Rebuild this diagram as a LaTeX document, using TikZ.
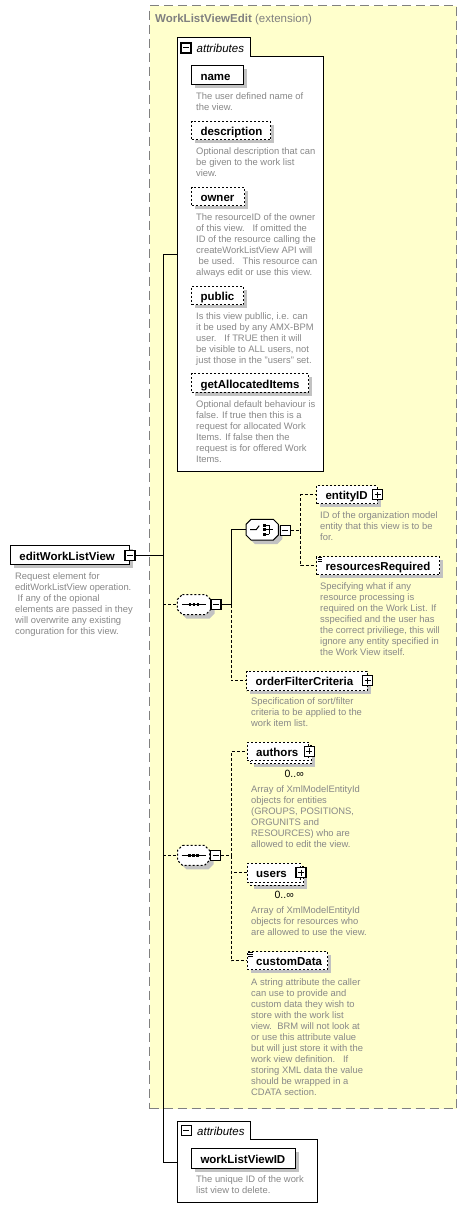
\documentclass[tikz,border=0pt]{standalone}
\usepackage{fontspec}
\setmainfont{Liberation Sans}
\definecolor{ybg}{RGB}{255,255,204}
\definecolor{descgray}{RGB}{136,136,136}
\definecolor{titlegray}{RGB}{128,128,128}
\colorlet{boxshade}{black!24}
\newcommand\dstrut{\rule{0pt}{7pt}}
\newcommand\lbl[2]{\makebox[#1pt][l]{#2}}
% shadow rectangle: x, y, w, h
\newcommand\shrect[4]{\path[fill=boxshade] (#1+4,#2+4) rectangle (#1+#3+4,#2+#4+4);}
% octagon path: centre x, y, half width, half height, cut
\newcommand\octpath[5]{(#1-#3+#5,#2-#4) -- (#1+#3-#5,#2-#4) -- (#1+#3,#2-#4+#5) -- (#1+#3,#2+#4-#5) -- (#1+#3-#5,#2+#4) -- (#1-#3+#5,#2+#4) -- (#1-#3,#2+#4-#5) -- (#1-#3,#2-#4+#5) -- cycle}
\tikzset{
  conn/.style={line width=1pt, black},
  dconn/.style={conn, dash pattern=on 3pt off 2pt},
  elem/.style={draw, line width=1pt, fill=white, anchor=north west, inner xsep=9pt, inner ysep=0pt,
    text height=10pt, text depth=0pt, font=\fontsize{11.5}{13}\selectfont\bfseries},
  opt/.style={dash pattern=on 2pt off 2pt},
  backbox/.style={draw, line width=1pt, fill=white, anchor=north west, inner sep=0pt, opt},
  desc/.style={anchor=north west, inner sep=0pt, align=left, text=descgray, font=\fontsize{9.4}{11}\selectfont},
  minusb/.style={draw, line width=1.2pt, fill=white, minimum size=10pt, inner sep=0pt,
    path picture={\draw[line width=1pt] ([xshift=2pt]path picture bounding box.west) -- ([xshift=-2pt]path picture bounding box.east);}},
  plusb/.style={draw, line width=1.2pt, fill=white, minimum size=10pt, inner sep=0pt,
    path picture={\draw[line width=1pt] ([xshift=2pt]path picture bounding box.west) -- ([xshift=-2pt]path picture bounding box.east)
      ([yshift=-2pt]path picture bounding box.north) -- ([yshift=2pt]path picture bounding box.south);}},
  compnode/.style={inner sep=0pt, draw=none},
  compline/.style={draw, line width=1pt, fill=white},
  attrlbl/.style={anchor=base west, inner sep=0pt, font=\fontsize{11.5}{13}\selectfont\itshape},
  mult/.style={anchor=east, inner sep=0pt, font=\fontsize{10.5}{12}\selectfont},
  attrbox/.style={draw, line width=1pt, fill=white},
  ybox/.style={draw=titlegray, fill=ybg, line width=1.3pt, dash pattern=on 9pt off 5pt, anchor=north west, inner sep=0pt},
}
\begin{document}
\begin{tikzpicture}[x=1pt,y=-1pt]
\fill[white] (0,0) rectangle (467,1220);
\useasboundingbox (0,0) rectangle (467,1220);

% extension box
\node[ybox, minimum width=307pt, minimum height=1103pt] (ext) at (149,5) {};
\node[anchor=base west, inner sep=0pt, text=titlegray, font=\fontsize{11.5}{13}\selectfont] (title) at (155,23) {\textbf{WorkListViewEdit} (extension)};

% attributes group 1
\draw[attrbox] (177,38) -- (250,38) -- (250,57) -- (323,57) -- (323,471) -- (177,471) -- cycle;
\node[minusb] (a1m) at (186,48) {};
\node[attrlbl] (a1l) at (196.5,52.3) {attributes};

\shrect{191}{65.3}{52}{19}
\node[elem, minimum height=19pt] (name) at (191,65.3) {\lbl{34}{name}};
\node[desc] (dname) at (196,92.2) {\dstrut The user defined name of\\the view.};
\shrect{191}{120.7}{79}{18.6}
\node[elem, opt, minimum height=18.6pt] (description) at (191,120.7) {\lbl{61}{description}};
\node[desc] (ddescription) at (196,147.2) {\dstrut Optional description that can\\be given to the work list\\view.};
\shrect{191}{186.7}{53}{18.3}
\node[elem, opt, minimum height=18.3pt] (owner) at (191,186.7) {\lbl{35}{owner}};
\node[desc] (downer) at (196,213.2) {\dstrut The resourceID of the owner\\of this view.\ \ \ If omitted the\\ID of the resource calling the\\createWorkListView API will\\\hspace*{2.5pt}be used.\ \ \ This resource can\\always edit or use this view.};
\shrect{191}{285.7}{52}{18.6}
\node[elem, opt, minimum height=18.6pt] (public) at (191,285.7) {\lbl{34}{public}};
\node[desc] (dpublic) at (196,312.2) {\dstrut Is this view publlic, i.e. can\\it be used by any AMX-BPM\\user.\ \ \ If TRUE then it will\\be visible to ALL users, not\\just those in the "users" set.};
\shrect{191}{373.3}{117}{18.4}
\node[elem, opt, minimum height=18.4pt] (getalloc) at (191,373.3) {\lbl{99}{getAllocatedItems}};
\node[desc] (dgetalloc) at (196,400.5) {\dstrut Optional default behaviour is\\false. If true then this is a\\request for allocated Work\\Items. If false then the\\request is for offered Work\\Items.};

% root element
\shrect{10}{545.3}{119}{19}
\node[elem, minimum height=19pt] (ewlv) at (10,545.3) {\lbl{101}{editWorkListView}};
\node[minusb] (ewlvm) at (ewlv.east) {};
\node[desc] (dewlv) at (15,572.2) {\dstrut Request element for\\editWorkListView operation.\\\hspace*{2.5pt}If any of the opional\\elements are passed in they\\will overwrite any existing\\conguration for this view.};

% sequence 1
\path[fill=boxshade] \octpath{198}{608.5}{16.7}{10}{5};
\node[compnode, minimum width=33.5pt, minimum height=20pt] (seq1) at (194,604.5) {};
\path[compline, opt] \octpath{194}{604.5}{16.7}{10}{5};
\draw[line width=1pt] ([xshift=-12pt]seq1.center) -- ([xshift=12pt]seq1.center);
\foreach \dx in {-4,0,4} \fill ([xshift=\dx pt]seq1.center) +(-1.4,-1.4) rectangle +(1.4,1.4);
\node[minusb] (seq1m) at (216,604.6) {};

% choice
\path[fill=boxshade] \octpath{266.2}{533.7}{16.2}{10.3}{5};
\node[compnode, minimum width=32.3pt, minimum height=20.7pt] (choice) at (262.2,529.7) {};
\path[compline] \octpath{262.2}{529.7}{16.2}{10.3}{5};
\draw[line width=1pt] ([xshift=-12pt]choice.center) -- ([xshift=-6pt]choice.center) -- ([xshift=-3pt,yshift=4pt]choice.center);
\foreach \dy in {-4.5,0,4.5} {
  \fill ([xshift=2pt,yshift=\dy pt]choice.center) +(-1.3,-1.3) rectangle +(1.3,1.3);
  \draw[line width=0.9pt] ([xshift=3pt,yshift=\dy pt]choice.center) -- ([xshift=7pt,yshift=\dy pt]choice.center);
}
\draw[line width=0.9pt] ([xshift=7pt,yshift=4.5pt]choice.center) -- ([xshift=7pt,yshift=-4.5pt]choice.center);
\draw[line width=0.9pt] ([xshift=7pt]choice.center) -- ([xshift=11pt]choice.center);
\node[minusb] (choicem) at (285.3,530.5) {};

\shrect{316}{485}{60.7}{18.3}
\node[elem, opt, minimum height=18.3pt] (entity) at (316,485) {\lbl{42.7}{entityID}};
\node[plusb] (entityp) at (entity.east) {};
\node[desc] (dentity) at (320,511.5) {\dstrut ID of the organization model\\entity that this view is to be\\for.};
\shrect{316}{556}{123}{18}
\node[elem, opt, minimum height=18pt] (rr) at (316,556) {\lbl{105}{resourcesRequired}};
\draw[line width=0.7pt] (317.5,557.3) -- (322,557.3) (317.5,559.2) -- (322,559.2) (317.5,561.1) -- (322,561.1);
\node[desc] (drr) at (320,582.2) {\dstrut Specifying what if any\\resource processing is\\required on the Work List. If\\sspecified and the user has\\the correct priviliege, this will\\ignore any entity specified in\\the Work View itself.};

\shrect{246}{670.7}{120.7}{19.3}
\node[elem, opt, minimum height=19.3pt] (ofc) at (246,670.7) {\lbl{102.7}{orderFilterCriteria}};
\node[plusb] (ofcp) at (ofc.east) {};
\node[desc] (dofc) at (251,697.2) {\dstrut Specification of sort/filter\\criteria to be applied to the\\work item list.};

% sequence 2
\path[fill=boxshade] \octpath{197.5}{859.4}{16}{10}{5};
\node[compnode, minimum width=32pt, minimum height=20pt] (seq2) at (193.5,855.4) {};
\path[compline, opt] \octpath{193.5}{855.4}{16}{10}{5};
\draw[line width=1pt] ([xshift=-12pt]seq2.center) -- ([xshift=12pt]seq2.center);
\foreach \dx in {-4,0,4} \fill ([xshift=\dx pt]seq2.center) +(-1.4,-1.4) rectangle +(1.4,1.4);
\node[minusb] (seq2m) at (215.7,855.5) {};

\shrect{249.7}{744.7}{61.6}{18.3}
\node[backbox, minimum width=61.6pt, minimum height=18.3pt] (authorsb) at (249.7,744.7) {};
\node[elem, opt, minimum height=18.3pt] (authors) at (246.7,741.7) {\lbl{43.6}{authors}};
\node[plusb] (authorsp) at (authors.east) {};
\node[mult] (authorsm) at (304,774) {0..∞};
\node[desc] (dauthors) at (251,784.8) {\dstrut Array of XmlModelEntityId\\objects for entities\\(GROUPS, POSITIONS,\\ORGUNITS and\\RESOURCES) who are\\allowed to edit the view.};

\shrect{249.7}{865.7}{53.3}{19}
\node[backbox, minimum width=53.3pt, minimum height=19pt] (usersb) at (249.7,865.7) {};
\node[elem, opt, minimum height=19pt] (users) at (246.7,862.7) {\lbl{35.3}{users}};
\node[plusb] (usersp) at (users.east) {};
\node[mult] (usersm) at (294,895) {0..∞};
\node[desc] (dusers) at (251,906.2) {\dstrut Array of XmlModelEntityId\\objects for resources who\\are allowed to use the view.};

\shrect{246.7}{951.3}{80.6}{18}
\node[elem, opt, minimum height=18pt] (custom) at (246.7,951.3) {\lbl{62.6}{customData}};
\draw[line width=0.7pt] (248.2,952.6) -- (252.7,952.6) (248.2,954.5) -- (252.7,954.5) (248.2,956.4) -- (252.7,956.4);
\node[desc] (dcustom) at (251,977.8) {\dstrut A string attribute the caller\\can use to provide and\\custom data they wish to\\store with the work list\\view.\ \ BRM will not look at\\or use this attribute value\\but will just store it with the\\work view definition.\ \ \ If\\storing XML data the value\\should be wrapped in a\\CDATA section.};

% attributes group 2
\draw[attrbox] (177.3,1121.7) -- (250,1121.7) -- (250,1139.3) -- (317.3,1139.3) -- (317.3,1202.3) -- (177.3,1202.3) -- cycle;
\node[minusb] (a2m) at (186.3,1130.8) {};
\node[attrlbl] (a2l) at (197,1135) {attributes};
\shrect{191}{1148.3}{104}{19.4}
\node[elem, minimum height=19.4pt] (wlvid) at (191,1148.3) {\lbl{86}{workListViewID}};
\node[desc] (dwlvid) at (196,1174.8) {\dstrut The unique ID of the work\\list view to delete.};

% connectors
\coordinate (vtop) at (163,254.5);
\coordinate (attr1) at (177,254.5);
\coordinate (vbot) at (163,1162);
\coordinate (attr2) at (177.3,1162);
\draw[conn] (attr1) -- (vtop) -- (vbot) -- (attr2);
\draw[conn] (ewlvm.east) -- (ewlvm.east -| vtop);
\draw[dconn] (seq1.west -| vtop) -- (seq1.west);
\draw[dconn] (seq2.west -| vtop) -- (seq2.west);
\coordinate (j1) at (231.7,604.6);
\draw[conn] (seq1m.east) -- (j1) |- (choice.west);
\draw[dconn] (j1) |- (ofc.west);
\coordinate (j2) at (300.7,530.5);
\draw[dconn] (choicem.east) -- (j2);
\draw[dconn] (j2) |- (entity.west);
\draw[dconn] (j2) |- (rr.west);
\coordinate (j3) at (231,855.5);
\draw[dconn] (seq2m.east) -- (j3);
\draw[dconn] (j3) |- (authors.west);
\draw[dconn] (j3) |- (users.west);
\draw[dconn] (j3) |- (custom.west);
\end{tikzpicture}
\end{document}
